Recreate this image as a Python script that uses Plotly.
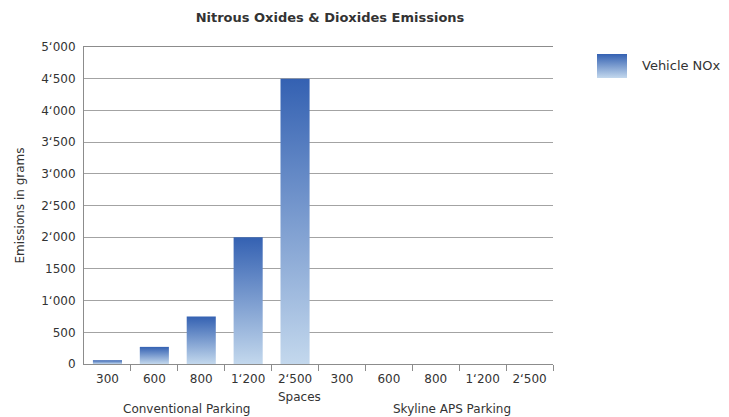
import plotly.graph_objects as go

# Parking spaces per facility and the two parking types
spaces = ["300", "600", "800", "1\u2018200", "2\u2018500"]
groups = ["Conventional Parking", "Skyline APS Parking"]
series_name = "Vehicle NOx"

# Vehicle NOx emissions in grams (conventional, then Skyline APS)
nox_conventional = [60, 270, 750, 2000, 4500]
nox_skyline = [0, 0, 0, 0, 0]

y_tick_values = [0, 500, 1000, 1500, 2000, 2500, 3000, 3500, 4000, 4500, 5000]
y_tick_labels = ["0", "500", "1\u2018000", "1500", "2\u2018000", "2\u2018500",
                 "3\u2018000", "3\u2018500", "4\u2018000", "4\u2018500", "5\u2018000"]

categories = spaces + spaces
values = nox_conventional + nox_skyline

DARK = "#3461b2"
LIGHT = "#c3d8ed"
TEXT = "#333333"
AXIS = "#8c8c8c"
GRID = "#a3a3a3"
FONT = "DejaVu Sans"
HALF = 0.31  # half bar width in category units
GRADIENT = dict(type="vertical", colorscale=[[0, LIGHT], [1, DARK]])

W, H = 729, 417
L, R, T, B = 84, 10, 47, 53          # page margins
PLOT_RIGHT = 553                     # right end of the bar area
PW, PH = W - L - R, H - T - B


def px_x(x):
    return (x - L) / PW


def px_y(y):
    return (H - B - y) / PH


fig = go.Figure()

# each bar is a filled rectangle with its own vertical gradient
for i, v in enumerate(values):
    if v <= 0:
        continue
    fig.add_trace(go.Scatter(
        x=[i - HALF, i + HALF, i + HALF, i - HALF, i - HALF],
        y=[0, 0, v, v, 0],
        mode="lines",
        line=dict(width=0, color=DARK),
        fill="toself",
        fillgradient=GRADIENT,
        name=series_name,
        showlegend=False,
        hoverinfo="skip",
    ))

# legend key: a gradient square on its own small axes
fig.add_trace(go.Scatter(
    x=[0, 1, 1, 0, 0], y=[0, 0, 1, 1, 0],
    xaxis="x2", yaxis="y2",
    mode="lines", line=dict(width=0, color=DARK),
    fill="toself", fillgradient=GRADIENT,
    showlegend=False, hoverinfo="skip",
))

fig.update_layout(
    width=W, height=H,
    margin=dict(l=L, r=R, t=T, b=B),
    paper_bgcolor="white", plot_bgcolor="white",
    font=dict(family=FONT, size=12, color=TEXT),
    title=dict(text="<b>Nitrous Oxides & Dioxides Emissions</b>",
               x=330 / W, xref="container", xanchor="center",
               y=1 - 17 / H, yref="container", yanchor="middle",
               font=dict(size=13, color=TEXT, family=FONT)),
    showlegend=False,
    xaxis=dict(
        domain=[0, px_x(PLOT_RIGHT)],
        range=[-0.5, 9.5],
        tickmode="array",
        tickvals=list(range(len(categories))),
        ticktext=categories,
        ticks="",
        ticklabelstandoff=4,
        showgrid=False,
        zeroline=False,
        showline=True, linecolor=AXIS, linewidth=1, mirror=True,
        minor=dict(tickmode="array",
                   tickvals=[k + 0.5 for k in range(len(categories))],
                   ticks="outside", ticklen=6, tickcolor=AXIS, showgrid=False),
        fixedrange=True,
    ),
    yaxis=dict(
        range=[0, 5000],
        tickmode="array",
        tickvals=y_tick_values,
        ticktext=y_tick_labels,
        ticks="",
        ticklabelstandoff=5,
        showgrid=True, gridcolor=GRID, gridwidth=1,
        zeroline=False,
        showline=True, linecolor=AXIS, linewidth=1,
        title=dict(text="Emissions in grams", standoff=14,
                   font=dict(size=12, color=TEXT)),
        fixedrange=True,
    ),
    xaxis2=dict(domain=[px_x(597), px_x(627)], range=[0, 1], visible=False,
                anchor="y2", fixedrange=True),
    yaxis2=dict(domain=[px_y(78), px_y(54)], range=[0, 1], visible=False,
                anchor="x2", fixedrange=True),
)

# legend text
fig.add_annotation(x=px_x(640), y=px_y(66), xref="paper", yref="paper",
                   xanchor="left", yanchor="middle", showarrow=False,
                   text=series_name, font=dict(size=13, color=TEXT, family=FONT))

# axis title and group labels under the category ticks
fig.add_annotation(x=px_x(299), y=px_y(397), xref="paper", yref="paper",
                   xanchor="center", yanchor="middle", showarrow=False,
                   text="Spaces", font=dict(size=12, color=TEXT, family=FONT))
for g, cx in zip(groups, [186, 452]):
    fig.add_annotation(x=px_x(cx), y=px_y(409), xref="paper", yref="paper",
                       xanchor="center", yanchor="middle", showarrow=False,
                       text=g, font=dict(size=12, color=TEXT, family=FONT))

fig.write_html("out.html")
